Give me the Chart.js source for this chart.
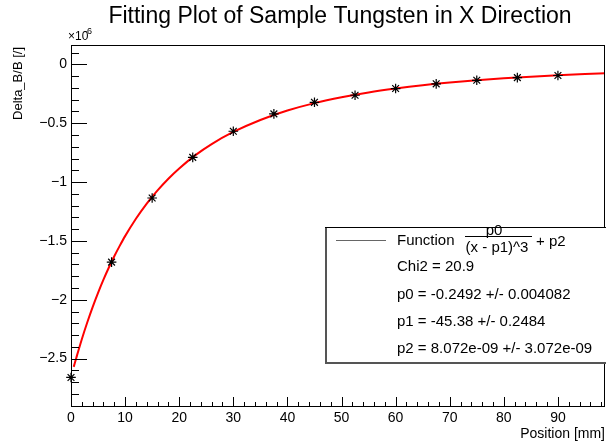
<!DOCTYPE html>
<html>
<head>
<meta charset="UTF-8">
<script src="https://cdn.jsdelivr.net/npm/chart.js@4"></script>
<style>
  body { margin:0; background:#fff; }
  canvas { display:block; }
</style>
</head>
<body>
<canvas id="c" width="606" height="446"></canvas>
<script>
// measured points (Delta_B/B in units of 1e-6)
const posX   = [0, 7.5, 15, 22.5, 30, 37.5, 45, 52.5, 60, 67.5, 75, 82.5, 90];
const deltaB = [-2.66, -1.68, -1.135, -0.79, -0.568, -0.42, -0.322, -0.262, -0.205, -0.165, -0.135, -0.112, -0.094];

// red fit curve
const fitX = [0.5, 1, 2, 3, 4, 5, 6, 7, 8, 9, 10, 12, 14, 16, 18, 20, 23, 26, 30, 35, 40, 45, 50, 55, 60, 65, 70, 75, 80, 85, 90, 95, 98.7];
const fitY = [-2.57, -2.49, -2.335, -2.193, -2.062, -1.941, -1.829, -1.726, -1.63, -1.542, -1.459, -1.311, -1.182, -1.07, -0.971, -0.884, -0.771, -0.677, -0.574, -0.472, -0.392, -0.329, -0.279, -0.238, -0.205, -0.177, -0.154, -0.135, -0.118, -0.104, -0.092, -0.082, -0.075];

const xTickValues = [0, 10, 20, 30, 40, 50, 60, 70, 80, 90];
const xTickLabels = ['0', '10', '20', '30', '40', '50', '60', '70', '80', '90'];
const yTickValues = [0, -0.5, -1, -1.5, -2, -2.5];
const yTickLabels = ['0', '\u22120.5', '\u22121', '\u22121.5', '\u22122', '\u22122.5'];

const legendLines = ['Chi2 = 20.9', 'p0 = -0.2492 +/- 0.004082', 'p1 = -45.38 +/- 0.2484', 'p2 = 8.072e-09 +/- 3.072e-09'];

const FONT = '"Liberation Sans", Arial, Helvetica, sans-serif';

// frame, inside ticks, titles, stats box
const rootDeco = {
  id: 'rootDeco',
  afterDraw(chart) {
    const c = chart.ctx, a = chart.chartArea;
    const xs = chart.scales.x, ys = chart.scales.y;
    c.save();
    c.strokeStyle = '#000';
    c.lineWidth = 1;
    c.strokeRect(a.left + 0.5, a.top + 0.5, a.right - a.left - 1, a.bottom - a.top - 1);

    // x ticks (major every 10, minor every 2)
    c.beginPath();
    for (let v = 0; v <= xs.max + 1e-9; v += 2) {
      const px = Math.round(xs.getPixelForValue(v)) + 0.5;
      const len = (Math.abs(v % 10) < 1e-9) ? 10 : 5;
      c.moveTo(px, a.bottom);
      c.lineTo(px, a.bottom - len);
    }
    // y ticks (major every 0.5, minor every 0.1)
    for (let i = -29; i <= 1; i++) {
      const v = i / 10;
      const py = Math.round(ys.getPixelForValue(v)) + 0.5;
      const len = (i % 5 === 0) ? 16 : 8;
      c.moveTo(a.left, py);
      c.lineTo(a.left + len, py);
    }
    c.stroke();

    c.fillStyle = '#000';
    // title
    c.font = '23px ' + FONT;
    c.textAlign = 'center';
    c.textBaseline = 'middle';
    c.fillText('Fitting Plot of Sample Tungsten in X Direction', 340, 17);

    // exponent
    c.textAlign = 'left';
    c.font = '12px ' + FONT;
    c.fillText('\u00d710', 68, 37);
    c.font = '9px ' + FONT;
    c.fillText('-6', 84, 32);

    // axis titles
    c.font = '14px ' + FONT;
    c.textAlign = 'right';
    c.fillText('Position [mm]', 605, 434);
    c.save();
    c.translate(18, 47);
    c.rotate(-Math.PI / 2);
    c.font = '13px ' + FONT;
    c.textAlign = 'right';
    c.fillText('Delta_B/B [/]', 0, 0);
    c.restore();

    // stats box
    const bx = 325, by = 227, bw = 281, bh = 135;
    c.fillStyle = '#fff';
    c.fillRect(bx, by, bw, bh);
    c.strokeStyle = '#000';
    c.lineWidth = 1;
    c.strokeRect(bx + 0.5, by + 0.5, bw, bh);
    c.strokeStyle = '#555';
    c.lineWidth = 2;
    c.beginPath();
    c.moveTo(bx + 1, by + 1); c.lineTo(bx + 1, by + bh + 1); c.lineTo(bx + bw, by + bh + 1);
    c.stroke();

    c.strokeStyle = '#666';
    c.lineWidth = 1;
    c.beginPath();
    c.moveTo(336, 240.5); c.lineTo(386, 240.5);
    c.stroke();

    c.fillStyle = '#000';
    c.font = '15px ' + FONT;
    c.textAlign = 'left';
    c.fillText('Function', 397, 241);
    c.textAlign = 'center';
    c.fillText('p0', 494, 231);
    c.fillText('(x - p1)^3', 497, 248);
    c.strokeStyle = '#000';
    c.beginPath();
    c.moveTo(465, 236.5); c.lineTo(532, 236.5);
    c.stroke();
    c.textAlign = 'left';
    c.fillText('+ p2', 536, 242);
    const rowY = [267, 295, 322, 349];
    legendLines.forEach((t, i) => c.fillText(t, 397, rowY[i]));
    c.restore();
  }
};

new Chart(document.getElementById('c').getContext('2d'), {
  type: 'scatter',
  data: {
    datasets: [
      {
        label: 'data',
        data: posX.map((x, i) => ({ x, y: deltaB[i] })),
        pointStyle: 'star',
        pointRadius: 4.8,
        borderColor: '#000',
        backgroundColor: '#000',
        borderWidth: 1.2,
        showLine: false,
        clip: 10
      },
      {
        label: 'fit',
        data: fitX.map((x, i) => ({ x, y: fitY[i] })),
        showLine: true,
        borderColor: '#ff0000',
        borderWidth: 2,
        pointRadius: 0,
        tension: 0.3,
        cubicInterpolationMode: 'monotone'
      }
    ]
  },
  options: {
    responsive: false,
    animation: false,
    layout: { autoPadding: false, padding: { top: 45, right: 1, left: 0, bottom: 0 } },
    plugins: { legend: { display: false }, title: { display: false }, tooltip: { enabled: false } },
    scales: {
      x: {
        type: 'linear', min: 0, max: 98.7,
        grid: { display: false, drawTicks: false },
        border: { display: false },
        afterBuildTicks: s => { s.ticks = xTickValues.map(v => ({ value: v })); },
        afterFit: s => { s.height = 39; s.paddingLeft = 0; s.paddingRight = 0; },
        ticks: {
          padding: 3, maxRotation: 0, autoSkip: false, color: '#000',
          font: { family: FONT, size: 14 },
          callback: v => xTickLabels[xTickValues.indexOf(v)]
        }
      },
      y: {
        type: 'linear', min: -2.911, max: 0.165,
        grid: { display: false, drawTicks: false },
        border: { display: false },
        afterBuildTicks: s => { s.ticks = yTickValues.map(v => ({ value: v })); },
        afterFit: s => { s.width = 71; s.paddingTop = 0; s.paddingBottom = 0; },
        ticks: {
          padding: 4, autoSkip: false, color: '#000',
          font: { family: FONT, size: 14 },
          callback: v => yTickLabels[yTickValues.indexOf(v)]
        }
      }
    }
  },
  plugins: [rootDeco]
});
</script>
</body>
</html>
